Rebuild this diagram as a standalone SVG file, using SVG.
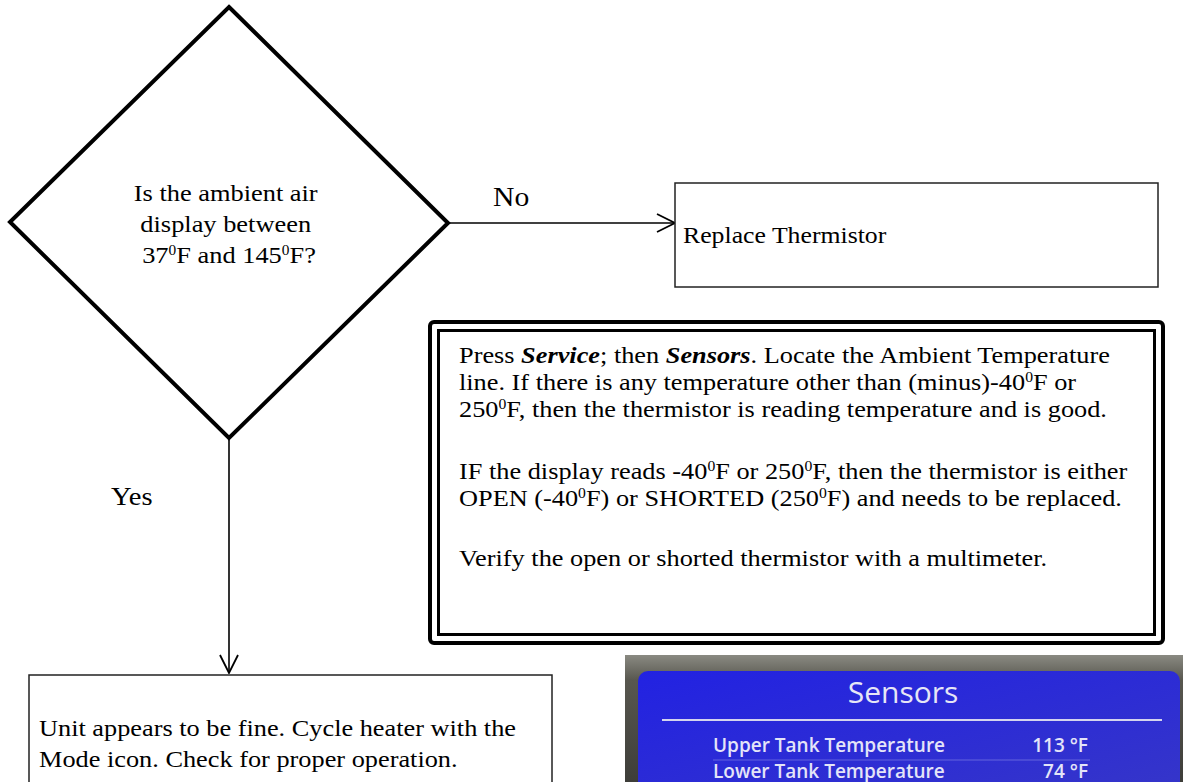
<svg xmlns="http://www.w3.org/2000/svg" width="1183" height="782" viewBox="0 0 1183 782">
  <defs>
    <style>
      .t{font-family:"Liberation Serif","Times New Roman",serif;fill:#000}
      .sup{font-size:14px;baseline-shift:super}
      .box{fill:#fff;stroke:#222;stroke-width:1.5}
      .conn{fill:none;stroke:#000;stroke-width:1.6}
      .scr{font-family:"Open Sans","Noto Sans",sans-serif}
      .row{font-size:19px;font-weight:600;fill:#e4e4f8}
    </style>
    <marker id="arr" viewBox="0 0 20 20" refX="19" refY="10" markerWidth="20" markerHeight="20" markerUnits="userSpaceOnUse" orient="auto">
      <path d="M1,1 L19,10 L1,19" fill="none" stroke="#000" stroke-width="1.8"/>
    </marker>
    <linearGradient id="bez" x1="0" y1="0" x2="0" y2="1">
      <stop offset="0" stop-color="#8a8a82"/>
      <stop offset="0.18" stop-color="#58574f"/>
      <stop offset="1" stop-color="#3a3a36"/>
    </linearGradient>
    <linearGradient id="blue" x1="0" y1="0" x2="1" y2="1">
      <stop offset="0" stop-color="#2222e2"/>
      <stop offset="1" stop-color="#3636c8"/>
    </linearGradient>
  </defs>
  <rect width="1183" height="782" fill="#fff"/>

  <g id="connectors">
    <line class="conn" x1="448" y1="223" x2="675" y2="223" marker-end="url(#arr)"/>
    <line class="conn" x1="229" y1="438" x2="229" y2="673" marker-end="url(#arr)"/>
    <text class="t" font-size="26.5" transform="translate(493 0) scale(1.12 1)" x="0" y="206">No</text>
    <text class="t" font-size="25.5" transform="translate(111 0) scale(1.12 1)" x="0" y="505">Yes</text>
  </g>

  <g id="decision">
    <polygon points="229,7 448,223 229,438 10,222" fill="#fff" stroke="#000" stroke-width="4" stroke-linejoin="miter"/>
    <text class="t" font-size="24" text-anchor="middle" transform="translate(229 0) scale(1.1 1)">
      <tspan x="0" y="201">Is the ambient air</tspan>
      <tspan x="0" y="232">display between</tspan>
      <tspan x="0" y="263">37<tspan class="sup">0</tspan>F and 145<tspan class="sup">0</tspan>F?</tspan>
    </text>
  </g>

  <g id="replace">
    <rect class="box" x="675" y="183" width="483" height="104"/>
    <text class="t" font-size="23" transform="translate(683 0) scale(1.12 1)" x="0" y="243">Replace Thermistor</text>
  </g>

  <g id="note">
    <rect x="430" y="322" width="733" height="321" rx="4" fill="#fff" stroke="#000" stroke-width="4"/>
    <rect x="438.5" y="330.5" width="716" height="304" fill="none" stroke="#000" stroke-width="3"/>
    <text class="t" font-size="23.5" transform="translate(459 0) scale(1.12 1)">
      <tspan x="0" y="363">Press <tspan font-weight="bold" font-style="italic">Service</tspan>; then <tspan font-weight="bold" font-style="italic">Sensors</tspan>. Locate the Ambient Temperature</tspan>
      <tspan x="0" y="390">line. If there is any temperature other than (minus)-40<tspan class="sup">0</tspan>F or</tspan>
      <tspan x="0" y="417">250<tspan class="sup">0</tspan>F, then the thermistor is reading temperature and is good.</tspan>
      <tspan x="0" y="479">IF the display reads -40<tspan class="sup">0</tspan>F or 250<tspan class="sup">0</tspan>F, then the thermistor is either</tspan>
      <tspan x="0" y="506">OPEN (-40<tspan class="sup">0</tspan>F) or SHORTED (250<tspan class="sup">0</tspan>F) and needs to be replaced.</tspan>
      <tspan x="0" y="566">Verify the open or shorted thermistor with a multimeter.</tspan>
    </text>
  </g>

  <g id="fine">
    <rect class="box" x="29" y="675" width="523" height="130"/>
    <text class="t" font-size="23.5" transform="translate(39 0) scale(1.12 1)">
      <tspan x="0" y="736">Unit appears to be fine. Cycle heater with the</tspan>
      <tspan x="0" y="767">Mode icon. Check for proper operation.</tspan>
    </text>
  </g>

  <g id="screen">
    <rect x="625" y="655" width="560" height="140" fill="url(#bez)"/>
    <rect x="638" y="671" width="542" height="130" rx="10" fill="url(#blue)"/>
    <text class="scr" x="903" y="703" font-size="30" text-anchor="middle" fill="#e6e6f6">Sensors</text>
    <line x1="662" y1="720" x2="1162" y2="720" stroke="#d4d4ee" stroke-width="2"/>
    <text class="scr row" x="713" y="752">Upper Tank Temperature</text>
    <text class="scr row" x="1088" y="752" text-anchor="end">113 °F</text>
    <line x1="713" y1="760" x2="1090" y2="760" stroke="#7a7ae4" stroke-width="1" opacity="0.7"/>
    <text class="scr row" x="713" y="778">Lower Tank Temperature</text>
    <text class="scr row" x="1088" y="778" text-anchor="end">74 °F</text>
  </g>
</svg>
